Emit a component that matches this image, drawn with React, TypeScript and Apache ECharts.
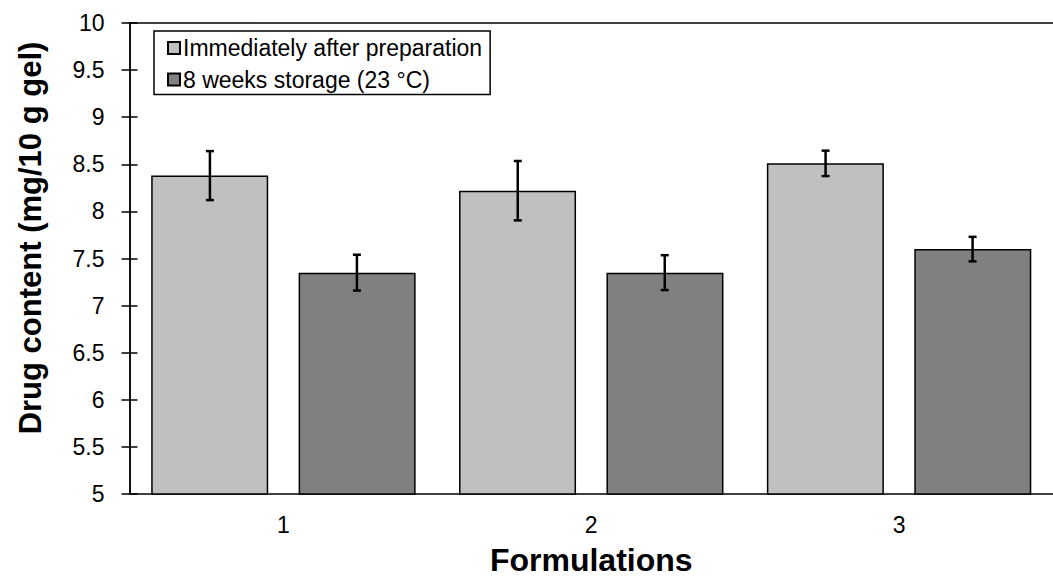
import React, { useEffect, useRef } from "react";
import * as echarts from "echarts";

const categories = ["1", "2", "3"];
const seriesNames = ["Immediately after preparation", "8 weeks storage (23 °C)"];
const immediate = [8.38, 8.22, 8.51];
const immediateErr = [0.26, 0.315, 0.135];
const stored = [7.35, 7.35, 7.6];
const storedErr = [0.19, 0.185, 0.13];
const yTicks = { min: 5, max: 10, interval: 0.5 };

const FONT = "'Liberation Sans', Arial, sans-serif";

function errData(vals: number[], errs: number[]) {
  return vals.map((v, i) => [i, v - errs[i], v + errs[i]]);
}

function errSeries(name: string, vals: number[], errs: number[], offset: number) {
  return {
    type: "custom",
    name: name + " error",
    z: 10,
    silent: true,
    encode: { x: 0, y: [1, 2] },
    data: errData(vals, errs),
    renderItem: (params: any, api: any) => {
      const lo = api.coord([api.value(0), api.value(1)]);
      const hi = api.coord([api.value(0), api.value(2)]);
      const x = lo[0] + offset;
      const cap = 4;
      const style = { stroke: "#000", lineWidth: 2.5 };
      return {
        type: "group",
        children: [
          { type: "line", shape: { x1: x, y1: lo[1], x2: x, y2: hi[1] }, style },
          { type: "line", shape: { x1: x - cap, y1: lo[1], x2: x + cap, y2: lo[1] }, style },
          { type: "line", shape: { x1: x - cap, y1: hi[1], x2: x + cap, y2: hi[1] }, style },
        ],
      };
    },
  };
}

export default function App() {
  const ref = useRef<HTMLDivElement>(null);
  useEffect(() => {
    if (!ref.current) return;
    const chart = echarts.init(ref.current, undefined, { renderer: "svg" });
    const axisLine = { show: true, lineStyle: { color: "#000", width: 1.5 } };
    chart.setOption({
      animation: false,
      backgroundColor: "#fff",
      textStyle: { fontFamily: FONT },
      grid: { left: 129.5, top: 23, width: 932, height: 476, containLabel: false },
      legend: {
        orient: "vertical",
        left: 154,
        top: 31,
        padding: [5, 8, 3, 13],
        itemGap: 7.5,
        itemWidth: 12,
        itemHeight: 12,
        borderColor: "#000",
        borderWidth: 1.5,
        backgroundColor: "#fff",
        icon: "rect",
        data: seriesNames,
        textStyle: { fontFamily: FONT, fontSize: 23, color: "#000", lineHeight: 24, padding: [0, 0, 0, -2] },
      },
      xAxis: [
        {
          type: "category",
          data: categories,
          position: "bottom",
          axisLine,
          axisTick: { show: false },
          axisLabel: { fontFamily: FONT, fontSize: 23, color: "#000", margin: 19 },
          name: "Formulations",
          nameLocation: "middle",
          nameGap: 50,
          nameTextStyle: { fontFamily: FONT, fontSize: 32, fontWeight: "bold", color: "#000" },
        },
        {
          type: "category",
          data: categories,
          position: "top",
          axisLine,
          axisTick: { show: false },
          axisLabel: { show: false },
        },
      ],
      yAxis: [
        {
          type: "value",
          min: yTicks.min,
          max: yTicks.max,
          interval: yTicks.interval,
          position: "left",
          axisLine,
          axisTick: { show: true, inside: true, length: 8, lineStyle: { color: "#000", width: 1.5 } },
          axisLabel: { fontFamily: FONT, fontSize: 23, color: "#000", margin: 25 },
          splitLine: { show: false },
        },
        {
          type: "value",
          min: yTicks.min,
          max: yTicks.max,
          interval: yTicks.interval,
          position: "left",
          axisLine,
          axisTick: { show: true, inside: false, length: 8, lineStyle: { color: "#000", width: 1.5 } },
          axisLabel: { show: false },
          splitLine: { show: false },
        },
      ],
      graphic: [
        {
          type: "text",
          x: 30,
          y: 238,
          rotation: Math.PI / 2,
          style: {
            text: "Drug content (mg/10 g gel)",
            fontFamily: FONT,
            fontSize: 31,
            fontWeight: "bold",
            fill: "#000",
            align: "center",
            verticalAlign: "middle",
          },
        },
      ],
      series: [
        {
          type: "bar",
          name: seriesNames[0],
          data: immediate,
          barWidth: 117,
          barGap: "26%",
          itemStyle: { color: "#c0c0c0", borderColor: "#000", borderWidth: 1.5 },
        },
        {
          type: "bar",
          name: seriesNames[1],
          data: stored,
          barWidth: 117,
          barGap: "26%",
          itemStyle: { color: "#808080", borderColor: "#000", borderWidth: 1.5 },
        },
        errSeries(seriesNames[0], immediate, immediateErr, -73.5),
        errSeries(seriesNames[1], stored, storedErr, 73.5),
      ],
    });
    return () => chart.dispose();
  }, []);
  return (
    <div
      ref={ref}
      style={{ position: "absolute", left: 0, top: 0, width: 1053, height: 581 }}
    />
  );
}
